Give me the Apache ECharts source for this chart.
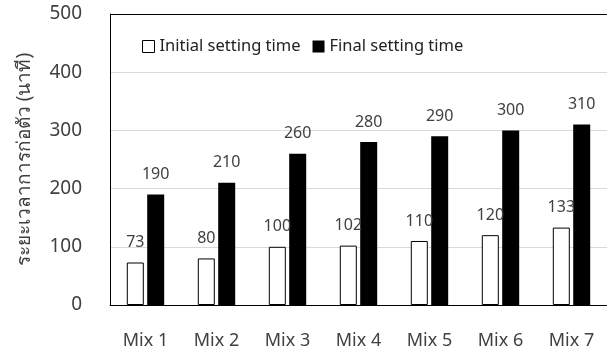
<!DOCTYPE html>
<html>
<head>
<meta charset="utf-8">
<script src="https://cdn.jsdelivr.net/npm/echarts@6/dist/echarts.min.js"></script>
<style>
  html, body { margin: 0; padding: 0; background: #fff; }
  #chart { width: 607px; height: 358px; }
</style>
</head>
<body>
<div id="chart"></div>
<script>
// Setting times of the seven mixes (minutes)
const categories = ['Mix 1', 'Mix 2', 'Mix 3', 'Mix 4', 'Mix 5', 'Mix 6', 'Mix 7'];
const initialSetting = [73, 80, 100, 102, 110, 120, 133];
const finalSetting = [190, 210, 260, 280, 290, 300, 310];
const seriesNames = ['Initial setting time', 'Final setting time'];
const yAxisTitle = 'ระยะเวลาการก่อตัว (นาที)';

const FONT = '"Noto Sans", "Open Sans", sans-serif';
const TEXT = '#404040';
const chart = echarts.init(document.getElementById('chart'));

chart.setOption({
  animation: false,
  textStyle: { fontFamily: FONT },
  grid: { left: 110, right: -1, top: 14, bottom: 53 },
  legend: {
    left: 137, top: 33,
    itemWidth: 12, itemHeight: 12, itemGap: 12,
    textStyle: { fontSize: 16.5, color: '#222', fontFamily: FONT },
    data: [
      { name: seriesNames[0], icon: 'rect', itemStyle: { color: '#fff', borderColor: '#000', borderWidth: 1 } },
      { name: seriesNames[1], icon: 'rect', itemStyle: { color: '#000' } }
    ]
  },
  xAxis: {
    type: 'category',
    data: categories,
    axisLine: { lineStyle: { color: '#000', width: 1 } },
    axisTick: { show: false },
    axisLabel: { fontSize: 18, color: TEXT, margin: 27, fontFamily: FONT }
  },
  yAxis: {
    type: 'value',
    min: 0, max: 500, interval: 100,
    name: yAxisTitle,
    nameLocation: 'middle',
    nameRotate: 90,
    nameGap: 76,
    nameTextStyle: { fontSize: 19, color: TEXT, fontFamily: FONT },
    axisLine: { show: true, lineStyle: { color: '#000', width: 1 } },
    axisTick: { show: false },
    axisLabel: { fontSize: 19, color: TEXT, margin: 28, padding: [4, 0, 0, 0], fontFamily: FONT },
    splitLine: {
      lineStyle: {
        color: ['#d9d9d9', '#d9d9d9', '#d9d9d9', '#d9d9d9', '#d9d9d9', '#000'],
        width: 1
      }
    }
  },
  series: [
    {
      name: seriesNames[0],
      type: 'bar',
      data: initialSetting,
      barWidth: 17,
      barGap: '20%',
      itemStyle: { color: '#fff', borderColor: '#000', borderWidth: 1 },
      label: { show: true, position: 'top', distance: 12, fontSize: 16, color: TEXT, fontFamily: FONT }
    },
    {
      name: seriesNames[1],
      type: 'bar',
      data: finalSetting,
      barWidth: 17,
      itemStyle: { color: '#000' },
      label: { show: true, position: 'top', distance: 12, fontSize: 16, color: TEXT, fontFamily: FONT }
    }
  ]
});
</script>
</body>
</html>
